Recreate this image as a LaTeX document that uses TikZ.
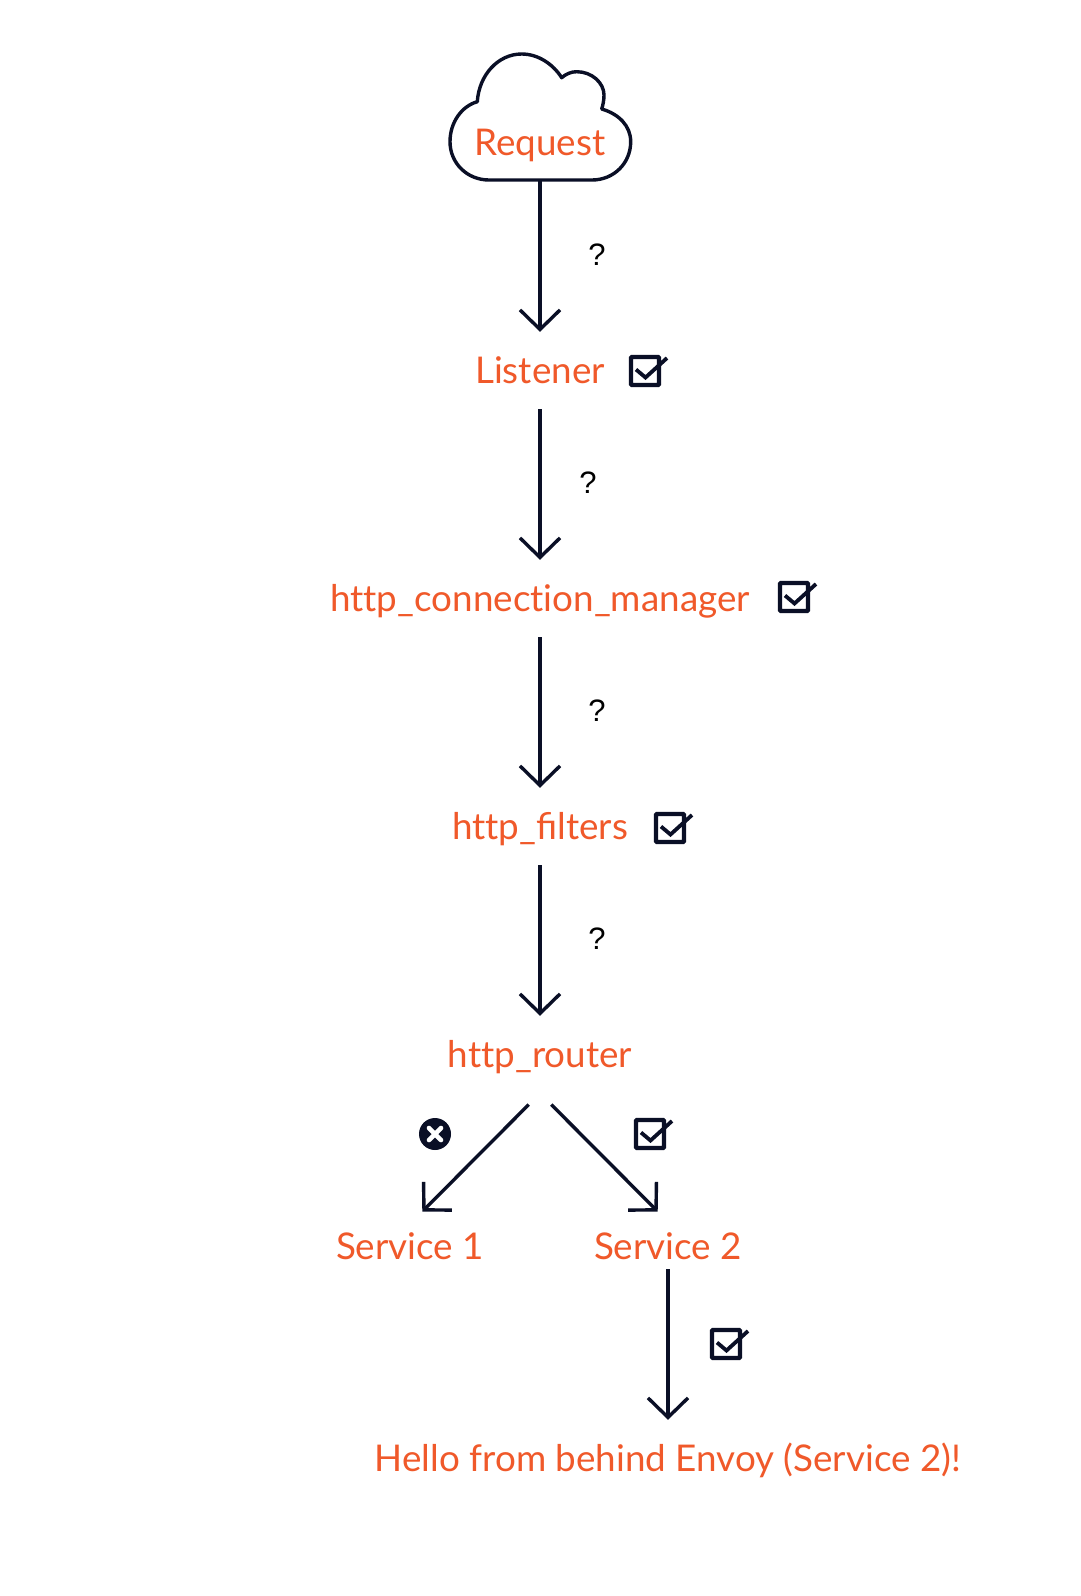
\documentclass[tikz,border=0pt]{standalone}
\usepackage{fontspec}
\setmainfont{Lato}[Ligatures=NoCommon]
\newfontfamily\qfont{Liberation Sans}
\usetikzlibrary{arrows.meta,calc}
\definecolor{ink}{HTML}{0A0F26}
\definecolor{envoy}{HTML}{F0592A}
\tikzset{
 lab/.style={text=envoy,font=\fontsize{36.8}{42}\selectfont,inner sep=0pt,text height=34pt,text depth=7pt,minimum height=#1},
 lab/.default=78pt,
 qmark/.style={text=black,font=\qfont\fontsize{31}{36}\selectfont,inner sep=0pt},
 flow/.style={draw=ink,line width=3.4pt,shorten >=-1pt,-{Straight Barb[length=19.5pt,width=40pt,line width=3.4pt]}},
 boxic/.style={draw=ink,line width=4.3pt,rounded corners=1pt,inner sep=0pt,minimum size=28pt},
 cloudline/.style={draw=ink,line width=3.4pt,line join=round},
 checkic/.style={draw=ink,line width=3.8pt},
 crossic/.style={circle,fill=ink,inner sep=0pt,minimum size=32pt},
 crossx/.style={draw=white,line width=4.6pt,line cap=round}
}
\newcommand{\checkat}[2]{%
 \node[boxic] (#1) at (#2) {};
 \draw[checkic] ($(#1.center)+(-9,-1.5)$) -- ($(#1.center)+(0.5,6.5)$) -- ($(#1.center)+(22,-13)$);
}
\begin{document}
\begin{tikzpicture}[x=1pt,y=-1pt]
\useasboundingbox (0,0) rectangle (1080,1596);
\fill[white] (0,0) rectangle (1080,1596);
\draw[cloudline] (489,180) .. controls (467,180) and (450,163) .. (450,141.7)
 .. controls (450,122) and (462,106) .. (477.3,101.7)
 .. controls (479,75) and (498,54) .. (521.7,54)
 .. controls (538,54) and (553,64) .. (561.7,77.7)
 .. controls (566,74) and (571,71.7) .. (576.7,71.7)
 .. controls (592,71.7) and (604,83) .. (604,95)
 .. controls (604,100) and (603,105) .. (601.7,109)
 .. controls (619,114) and (630.7,126) .. (630.7,141.7)
 .. controls (630.7,163) and (614,180) .. (592,180) -- cycle;
\node[lab=76pt] (request) at (540,142) {Request};
\node[lab=78pt] (listener) at (540,370) {Listener};
\node[lab=78pt] (hcm) at (540,598) {http\_connection\_manager};
\node[lab=78pt] (filters) at (540,826) {http\_ﬁlters};
\node[lab=78pt] (router) at (540,1054) {http\_router};
\node[lab=46pt] (s1) at (410,1246) {Service 1};
\node[lab=46pt] (s2) at (668,1246) {Service 2};
\node[lab=78pt] (hello) at (668,1458) {Hello from behind Envoy (Service 2)!};
\path (s1.north) ++(13,-12) coordinate (s1in);
\path (s2.north) ++(-11,-12) coordinate (s2in);
\draw[flow] (request.south) -- (listener.north);
\draw[flow] (listener.south) -- (hcm.north);
\draw[flow] (hcm.south) -- (filters.north);
\draw[flow] (filters.south) -- (router.north);
\draw[flow,shorten <=16pt] (router.south) -- (s1in);
\draw[flow,shorten <=16pt] (router.south) -- (s2in);
\draw[flow] (s2.south) -- (hello.north);
\node[qmark] (q1) at (597,255) {?};
\node[qmark] (q2) at (588,483) {?};
\node[qmark] (q3) at (597,711) {?};
\node[qmark] (q4) at (597,939) {?};
\checkat{c1}{645,371}
\checkat{c2}{794,597}
\checkat{c3}{670,828}
\checkat{c4}{650,1134}
\checkat{c5}{726,1344}
\node[crossic] (x1) at (435,1134) {};
\draw[crossx] ($(x1.center)+(-6,-6)$) -- ($(x1.center)+(6,6)$);
\draw[crossx] ($(x1.center)+(-6,6)$) -- ($(x1.center)+(6,-6)$);
\end{tikzpicture}
\end{document}
